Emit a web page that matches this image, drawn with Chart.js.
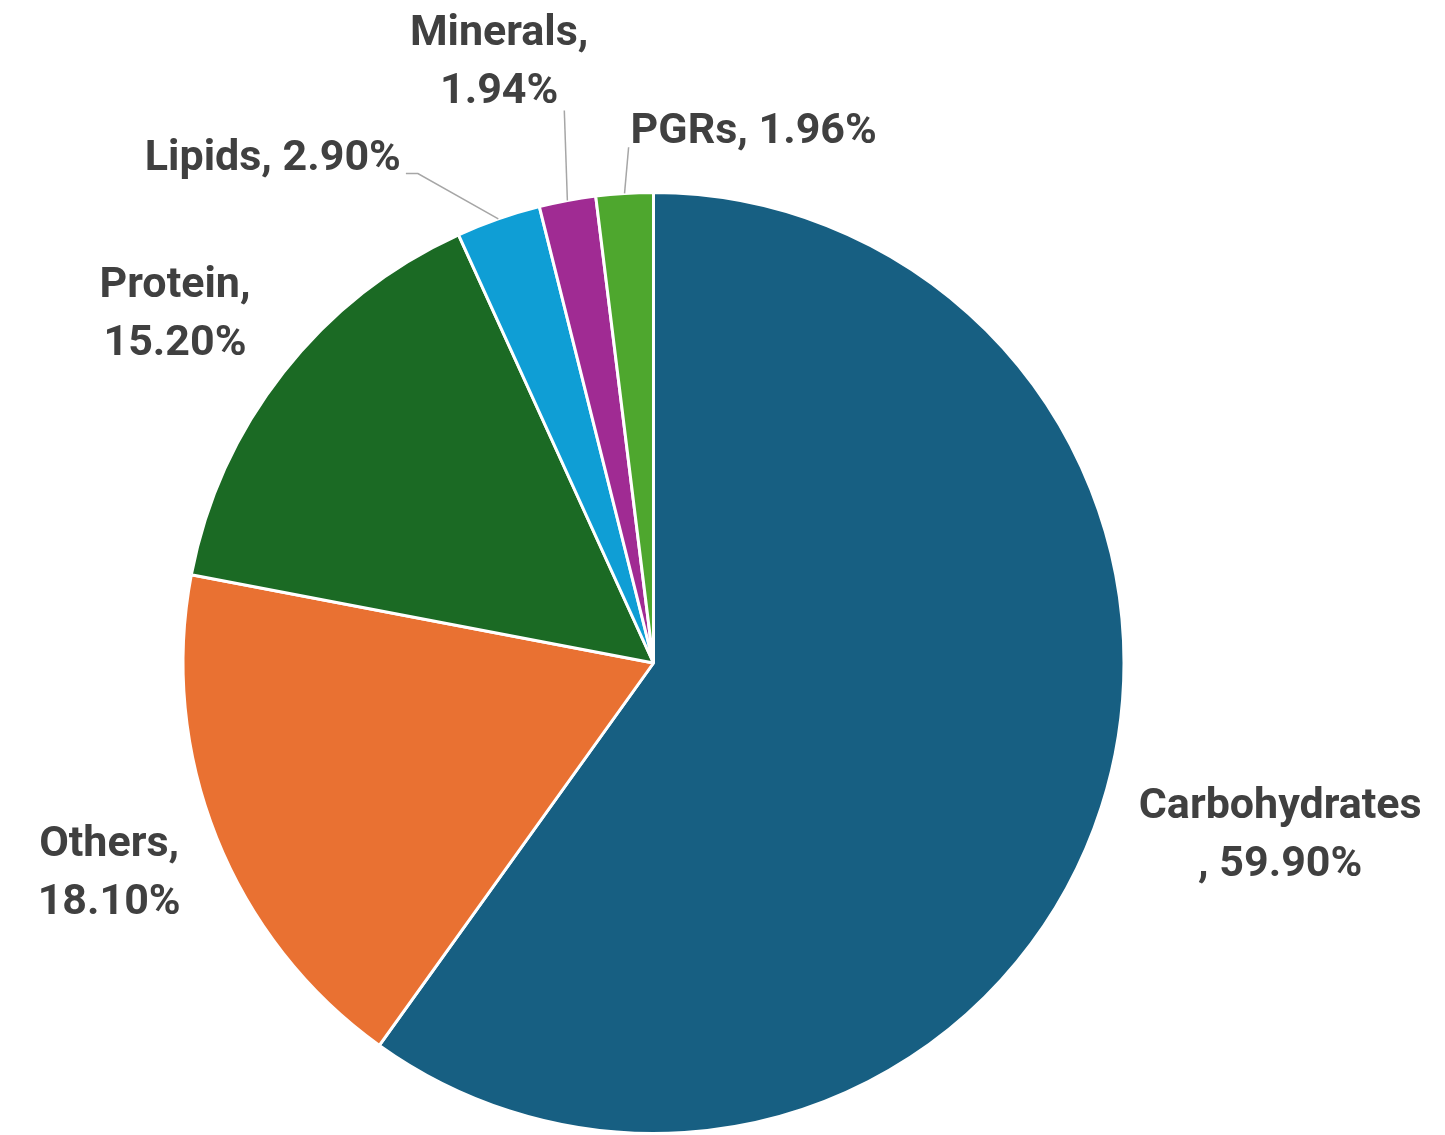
<!DOCTYPE html>
<html>
<head>
<meta charset="utf-8">
<script src="https://cdn.jsdelivr.net/npm/chart.js@4.4.1/dist/chart.umd.min.js"></script>
<style>
  html, body { margin: 0; padding: 0; background: #ffffff; }
  #wrap { width: 1445px; height: 1135px; position: relative; }
</style>
</head>
<body>
<div id="wrap"><canvas id="pie"></canvas></div>
<script>
// Composition shares (%), clockwise from 12 o'clock
const categories = ['Carbohydrates', 'Others', 'Protein', 'Lipids', 'Minerals', 'PGRs'];
const shares = [59.90, 18.10, 15.20, 2.90, 1.94, 1.96];
const sliceColors = ['#175F82', '#E97132', '#1B6A24', '#0F9ED5', '#A02B93', '#4EA72E'];

// Label text lines for each slice
const labelLines = [
  ['Carbohydrates', ', 59.90%'],
  ['Others,', '18.10%'],
  ['Protein,', '15.20%'],
  ['Lipids, 2.90%'],
  ['Minerals,', '1.94%'],
  ['PGRs, 1.96%']
];

// Label centre placement, in units of the pie radius from the pie centre
const labelPlacement = [
  { dx: 1.332, dy: 0.368 },
  { dx: -1.157, dy: 0.449 },
  { dx: -1.017, dy: -0.740 },
  { dx: -0.809, dy: -1.070, leader: 'right' },
  { dx: -0.328, dy: -1.274, leader: 'below' },
  { dx: 0.213, dy: -1.128, leader: 'left' }
];

const FONT = 'bold 43px Roboto';
const LINE_H = 58;
const TEXT_COLOR = '#404040';
const LEADER_COLOR = '#A6A6A6';

const dataLabels = {
  id: 'dataLabels',
  afterDatasetsDraw(chart) {
    const ctx = chart.ctx;
    const meta = chart.getDatasetMeta(0);
    ctx.save();
    ctx.font = FONT;
    ctx.fillStyle = TEXT_COLOR;
    ctx.textAlign = 'center';
    ctx.textBaseline = 'middle';
    meta.data.forEach((arc, i) => {
      const R = arc.outerRadius;
      const p = labelPlacement[i];
      const cx = arc.x + p.dx * R;
      const cy = arc.y + p.dy * R;
      const lines = labelLines[i];
      const top = cy - (lines.length - 1) * LINE_H / 2;
      lines.forEach((t, k) => ctx.fillText(t, cx, top + k * LINE_H));
      if (p.leader) {
        const lastW = ctx.measureText(lines[lines.length - 1]).width;
        const mid = (arc.startAngle + arc.endAngle) / 2;
        const ex = arc.x + Math.cos(mid) * R;
        const ey = arc.y + Math.sin(mid) * R;
        ctx.strokeStyle = LEADER_COLOR;
        ctx.lineWidth = 1.5;
        ctx.beginPath();
        if (p.leader === 'right') {
          const sx = cx + lastW / 2 + 5;
          const sy = cy + 14;
          ctx.moveTo(sx, sy);
          ctx.lineTo(sx + 12, sy);
          ctx.lineTo(ex, ey);
        } else if (p.leader === 'below') {
          const sx = cx + lastW / 2 + 6;
          const sy = top + (lines.length - 1) * LINE_H + 18;
          ctx.moveTo(sx, sy);
          ctx.lineTo(ex, ey);
        } else {
          const sx = cx - lastW / 2 - 2;
          const sy = cy + 15;
          ctx.moveTo(sx, sy);
          ctx.lineTo(ex, ey);
        }
        ctx.stroke();
      }
    });
    ctx.restore();
  }
};

new Chart(document.getElementById('pie'), {
  type: 'pie',
  data: {
    labels: categories,
    datasets: [{
      data: shares,
      backgroundColor: sliceColors,
      borderColor: '#ffffff',
      borderWidth: 3
    }]
  },
  options: {
    responsive: true,
    maintainAspectRatio: false,
    animation: false,
    layout: { padding: { top: 191, bottom: 0, left: 180, right: 318 } },
    plugins: {
      legend: { display: false },
      tooltip: { enabled: false }
    }
  },
  plugins: [dataLabels]
});
</script>
</body>
</html>
